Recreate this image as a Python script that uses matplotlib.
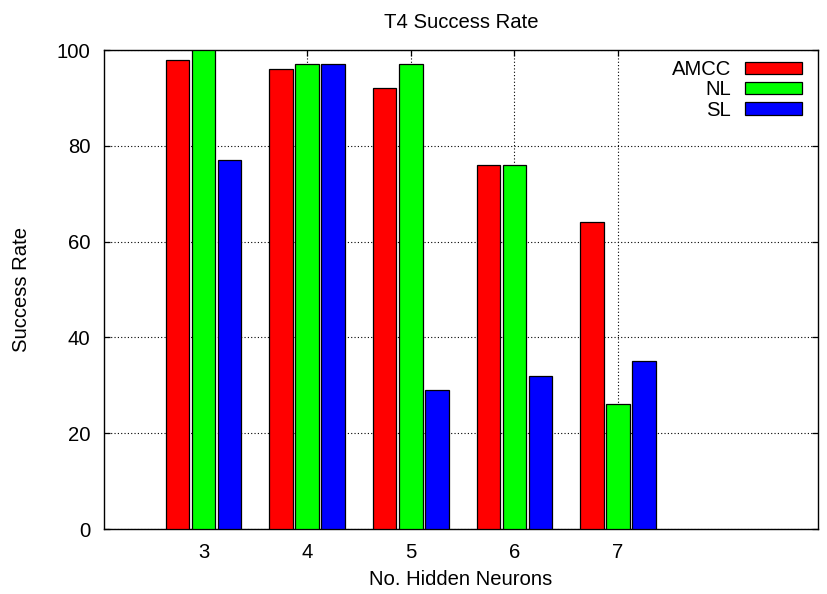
import numpy as np
import matplotlib
matplotlib.use('Agg')
import matplotlib.pyplot as plt
from matplotlib.patches import Patch

plt.rcParams['font.family'] = ['Liberation Sans', 'DejaVu Sans']

# data
neurons = ['3', '4', '5', '6', '7']
amcc = [98, 96, 92, 76, 64]
nl = [100, 97, 97, 76, 26]
sl = [77, 97, 29, 32, 35]

series_names = ['AMCC', 'NL', 'SL']
series_colors = ['#ff0000', '#00ff00', '#0000ff']

fs = 14.6

fig = plt.figure(figsize=(8.27, 5.94), dpi=100)
ax = fig.add_axes([0.1258, 0.1094, 0.8633, 0.8064])

x = np.arange(len(neurons))
pitch = 0.252
width = 0.227
for i, (vals, col) in enumerate(zip([amcc, nl, sl], series_colors)):
    ax.bar(x + (i - 1) * pitch, vals, width, color=col, edgecolor='black',
           linewidth=0.9, zorder=3)

ax.set_xlim(-0.96, 5.93)
ax.set_ylim(0, 100)
ax.set_xticks(x)
ax.set_xticklabels(neurons)
ax.set_yticks([0, 20, 40, 60, 80, 100])

ax.grid(True, linestyle=(0, (1, 2)), color='black', linewidth=0.8, zorder=0)
ax.set_axisbelow(True)

ax.tick_params(direction='in', length=4.3, width=0.9, top=True, right=True,
               labelsize=fs, pad=10)
for s in ax.spines.values():
    s.set_linewidth(1.0)

ax.set_title('T4 Success Rate', fontsize=fs, pad=16)
ax.set_xlabel('No. Hidden Neurons', fontsize=fs)
ax.set_ylabel('Success Rate', fontsize=fs)
ax.xaxis.set_label_coords(0.5, -0.085)
ax.yaxis.set_label_coords(-0.102, 0.5)

handles = [Patch(facecolor=c, edgecolor='black', linewidth=0.9) for c in series_colors]
leg = ax.legend(handles, series_names, loc='upper right', fontsize=fs,
                frameon=False, markerfirst=False, handlelength=2.8,
                handleheight=0.55, labelspacing=0.06, handletextpad=0.7,
                borderaxespad=0.4, borderpad=0.3,
                bbox_to_anchor=(0.9972, 1.0083))

fig.savefig('out.png', dpi=100)
